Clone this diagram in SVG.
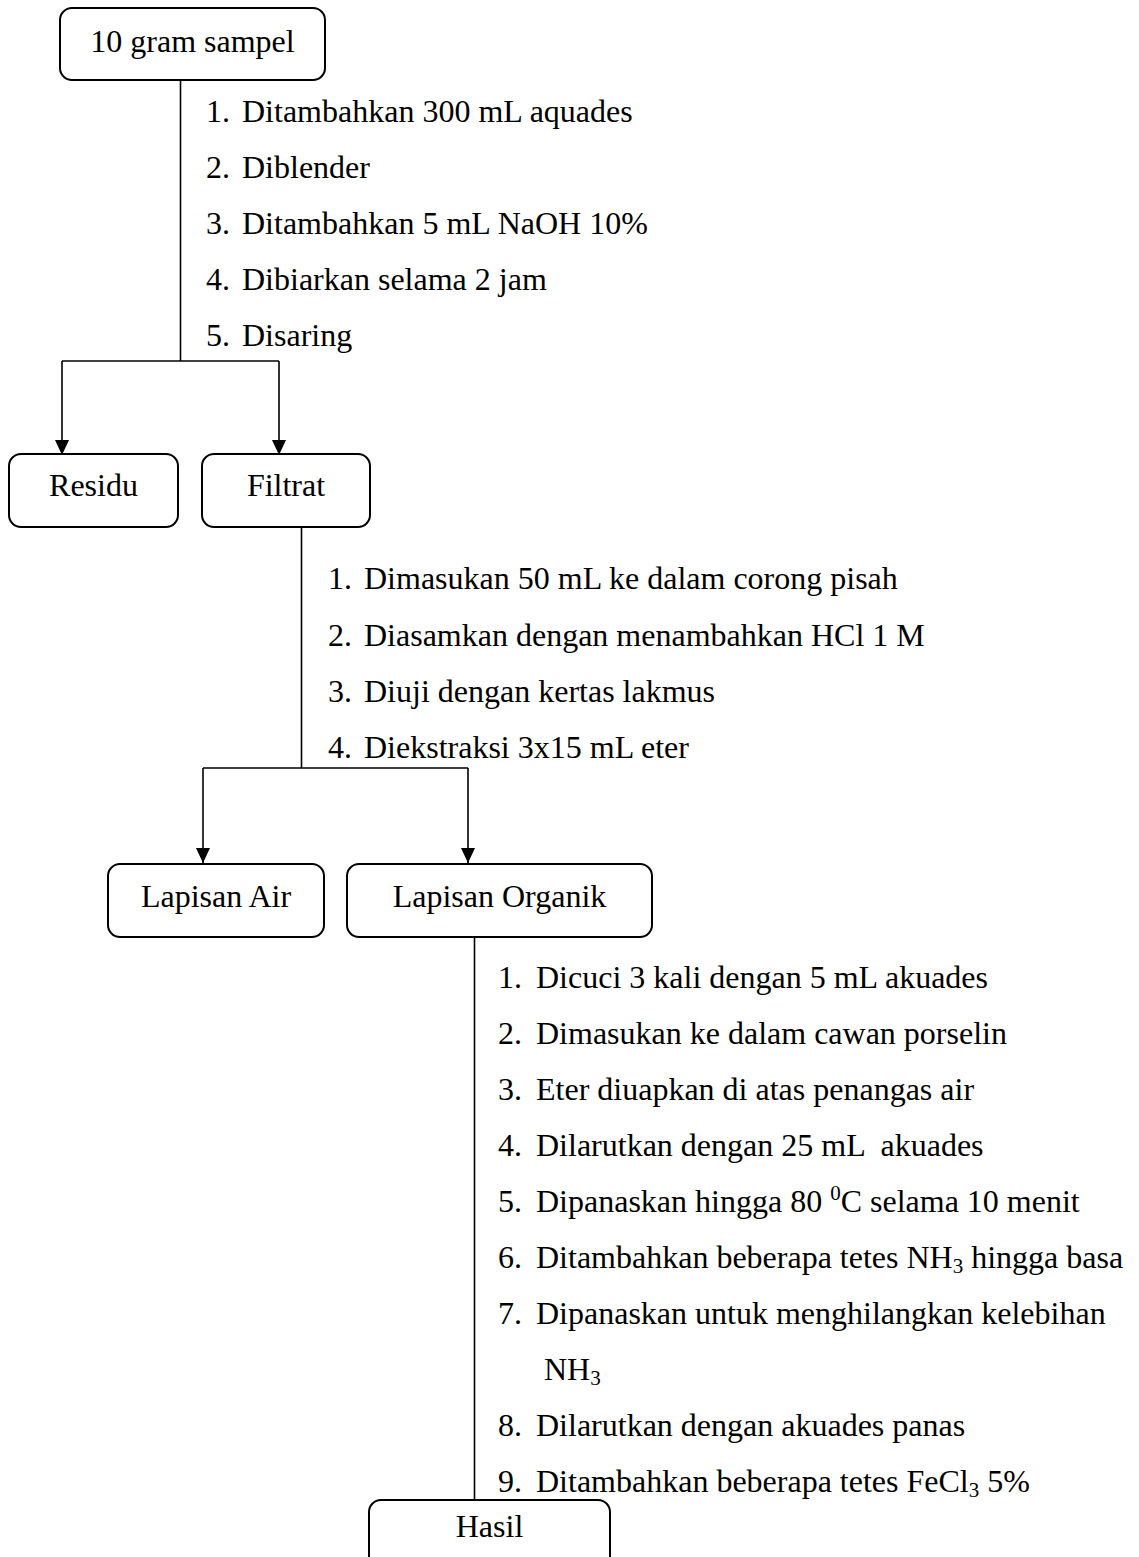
<svg xmlns="http://www.w3.org/2000/svg" width="1139" height="1557" viewBox="0 0 1139 1557">
<defs>
<style>
.box{fill:#fff;stroke:#000;stroke-width:2}
.t{font-family:"Liberation Serif","Times New Roman",serif;font-size:32px;fill:#000}
.c{text-anchor:middle}
.ln{fill:none;stroke:#000;stroke-width:1.6}
.sub{font-size:21px}
</style>
<marker id="ah" viewBox="0 0 15 14" refX="15" refY="7" markerWidth="15" markerHeight="14" markerUnits="userSpaceOnUse" orient="auto">
<path d="M0,0 L15,7 L0,14 Z" fill="#000"/>
</marker>
</defs>
<rect width="1139" height="1557" fill="#fff"/>
<g id="connectors">
<path class="ln" d="M180.5,80 V361"/>
<path class="ln" d="M62,361 H279"/>
<path class="ln" d="M62,361 V455" marker-end="url(#ah)"/>
<path class="ln" d="M279,361 V455" marker-end="url(#ah)"/>
<path class="ln" d="M301.5,527 V768"/>
<path class="ln" d="M203,768 H468"/>
<path class="ln" d="M203,768 V863" marker-end="url(#ah)"/>
<path class="ln" d="M468,768 V863" marker-end="url(#ah)"/>
<path class="ln" d="M474.5,937 V1500"/>
</g>
<g id="node-sampel">
<rect class="box" x="60" y="8" width="265" height="72" rx="12"/>
<text class="t c" x="192.5" y="52">10 gram sampel</text>
</g>
<g id="steps-1" class="t">
<text x="206" y="122">1.</text><text x="242" y="122">Ditambahkan 300 mL aquades</text>
<text x="206" y="178">2.</text><text x="242" y="178">Diblender</text>
<text x="206" y="234">3.</text><text x="242" y="234">Ditambahkan 5 mL NaOH 10%</text>
<text x="206" y="290">4.</text><text x="242" y="290">Dibiarkan selama 2 jam</text>
<text x="206" y="346">5.</text><text x="242" y="346">Disaring</text>
</g>
<g id="node-residu">
<rect class="box" x="9" y="454" width="169" height="73" rx="12"/>
<text class="t c" x="93.5" y="496">Residu</text>
</g>
<g id="node-filtrat">
<rect class="box" x="202" y="454" width="168" height="73" rx="12"/>
<text class="t c" x="286" y="496">Filtrat</text>
</g>
<g id="steps-2" class="t">
<text x="328" y="589">1.</text><text x="364" y="589">Dimasukan 50 mL ke dalam corong pisah</text>
<text x="328" y="646">2.</text><text x="364" y="646">Diasamkan dengan menambahkan HCl 1 M</text>
<text x="328" y="702">3.</text><text x="364" y="702">Diuji dengan kertas lakmus</text>
<text x="328" y="758">4.</text><text x="364" y="758">Diekstraksi 3x15 mL eter</text>
</g>
<g id="node-air">
<rect class="box" x="108" y="864" width="216" height="73" rx="12"/>
<text class="t c" x="216" y="907">Lapisan Air</text>
</g>
<g id="node-organik">
<rect class="box" x="347" y="864" width="305" height="73" rx="12"/>
<text class="t c" x="499.5" y="907">Lapisan Organik</text>
</g>
<g id="steps-3" class="t">
<text x="498" y="988">1.</text><text x="536" y="988">Dicuci 3 kali dengan 5 mL akuades</text>
<text x="498" y="1044">2.</text><text x="536" y="1044">Dimasukan ke dalam cawan porselin</text>
<text x="498" y="1100">3.</text><text x="536" y="1100">Eter diuapkan di atas penangas air</text>
<text x="498" y="1156">4.</text><text x="536" y="1156" xml:space="preserve">Dilarutkan dengan 25 mL  akuades</text>
<text x="498" y="1212">5.</text><text x="536" y="1212">Dipanaskan hingga 80 <tspan class="sub" dy="-12">0</tspan><tspan dy="12">C selama 10 menit</tspan></text>
<text x="498" y="1268">6.</text><text x="536" y="1268">Ditambahkan beberapa tetes NH<tspan class="sub" dy="5">3</tspan><tspan dy="-5"> hingga basa</tspan></text>
<text x="498" y="1324">7.</text><text x="536" y="1324">Dipanaskan untuk menghilangkan kelebihan</text>
<text x="544" y="1380">NH<tspan class="sub" dy="5">3</tspan></text>
<text x="498" y="1436">8.</text><text x="536" y="1436">Dilarutkan dengan akuades panas</text>
<text x="498" y="1492">9.</text><text x="536" y="1492">Ditambahkan beberapa tetes FeCl<tspan class="sub" dy="5">3</tspan><tspan dy="-5"> 5%</tspan></text>
</g>
<g id="node-hasil">
<rect class="box" x="369" y="1500" width="241" height="73" rx="12"/>
<text class="t c" x="489.5" y="1537">Hasil</text>
</g>
</svg>
